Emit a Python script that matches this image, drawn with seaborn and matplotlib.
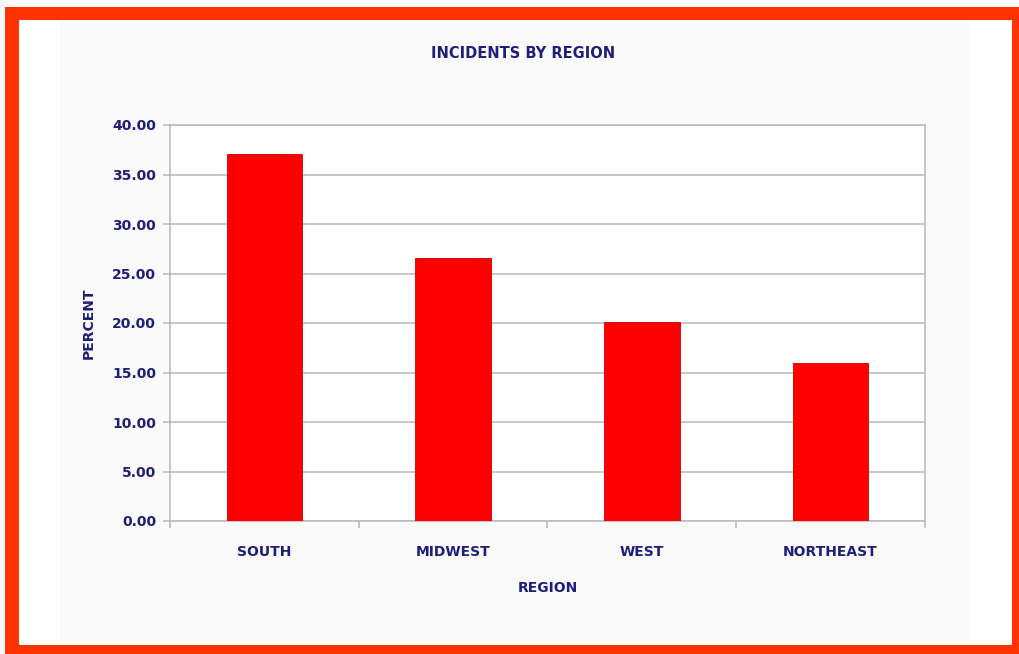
import matplotlib
matplotlib.use("Agg")
import matplotlib.pyplot as plt
import seaborn as sns
import pandas as pd
from matplotlib.patches import Rectangle

regions = ["SOUTH", "MIDWEST", "WEST", "NORTHEAST"]
percent = [37.1, 26.6, 20.1, 16.0]
yticks = [0, 5, 10, 15, 20, 25, 30, 35, 40]

df = pd.DataFrame({"region": regions, "percent": percent})

sns.set_theme(style="white")
plt.rcParams["font.family"] = ["DejaVu Sans"]
navy = "#1f1f7a"

W, H = 1020, 654
fig = plt.figure(figsize=(W / 100, H / 100), dpi=100)
fig.patch.set_facecolor("white")

# outer red frame and light chart area
fig.patches.append(Rectangle((5 / W, 0), (1020 - 5) / W, (654 - 7) / H,
                             transform=fig.transFigure, facecolor="#FF3300",
                             edgecolor="none", zorder=-3))
fig.patches.append(Rectangle((19 / W, (654 - 645) / H), (1012 - 19) / W, (645 - 20) / H,
                             transform=fig.transFigure, facecolor="white",
                             edgecolor="none", zorder=-2))
fig.patches.append(Rectangle((60 / W, (654 - 640) / H), (970 - 60) / W, (640 - 22) / H,
                             transform=fig.transFigure, facecolor="#FAFAFA",
                             edgecolor="none", zorder=-1))

ax = fig.add_axes([170 / W, 1 - 521 / H, (925 - 170) / W, (521 - 125) / H])
ax.set_facecolor("white")

sns.barplot(data=df, x="region", y="percent", ax=ax, color="#FF0000",
            width=0.4, edgecolor="#cc0000", linewidth=0.6, saturation=1, zorder=3)

ax.set_ylim(0, 40)
ax.set_xlim(-0.5, 3.5)
ax.set_yticks(yticks)
ax.set_yticklabels([f"{v:.2f}" for v in yticks])
ax.yaxis.grid(True, color="#bcbcbc", linewidth=1.2, zorder=0)
ax.set_axisbelow(True)
for s in ["left", "bottom", "right", "top"]:
    ax.spines[s].set_visible(True)
    ax.spines[s].set_color("#bcbcbc")
    ax.spines[s].set_linewidth(1.2)

ax.tick_params(axis="y", left=True, length=5, width=1.2, color="#bcbcbc",
               labelsize=10, labelcolor=navy, pad=5)
ax.set_xticks([0, 1, 2, 3])
ax.set_xticklabels(regions)
ax.tick_params(axis="x", bottom=False, labelsize=10, labelcolor=navy, pad=11)
for lab in ax.get_xticklabels() + ax.get_yticklabels():
    lab.set_fontweight("bold")
# category separator ticks
ax.set_xticks([-0.5, 0.5, 1.5, 2.5, 3.5], minor=True)
ax.tick_params(axis="x", which="minor", bottom=True, length=5, width=1.2, color="#bcbcbc")

ax.set_xlabel("REGION", fontsize=10, fontweight="bold", color=navy, labelpad=16)
ax.set_ylabel("PERCENT", fontsize=10, fontweight="bold", color=navy, labelpad=12)
fig.text(523 / W, 1 - 53 / H, "INCIDENTS BY REGION", ha="center", va="center",
         fontsize=10.5, fontweight="bold", color=navy)

fig.savefig("out.png", dpi=100, facecolor=fig.get_facecolor())
